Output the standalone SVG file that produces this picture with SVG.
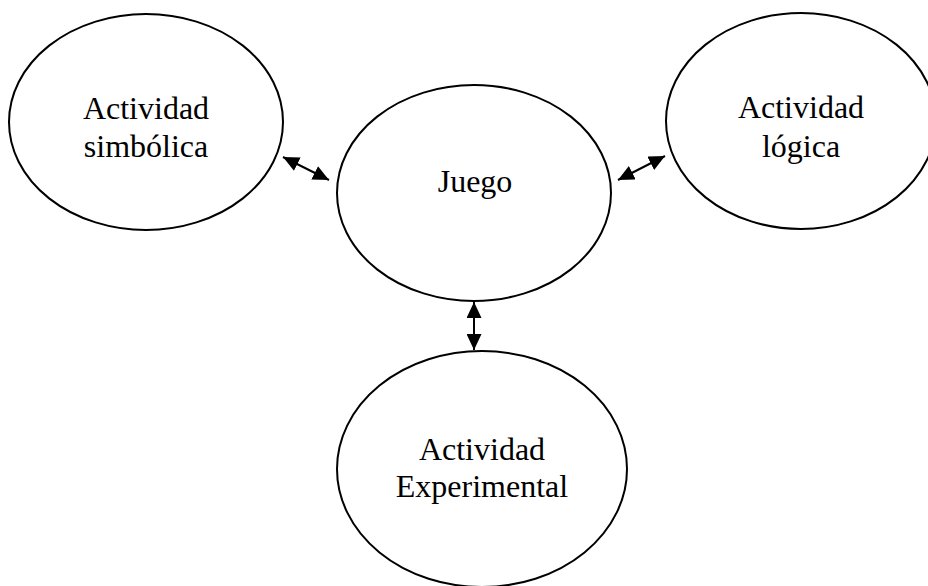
<svg xmlns="http://www.w3.org/2000/svg" width="928" height="586" viewBox="0 0 928 586">
  <style>
    .node ellipse { fill: #ffffff; stroke: #000000; stroke-width: 2; }
    .node text { font-family: "Liberation Serif", "Times New Roman", serif; font-size: 32px; fill: #000000; text-anchor: middle; }
    .link { stroke: #000000; stroke-width: 2; fill: none; marker-start: url(#head); marker-end: url(#head); }
  </style>
  <defs>
    <marker id="head" viewBox="0 0 16 15" refX="16" refY="7.5" markerWidth="16" markerHeight="15" markerUnits="userSpaceOnUse" orient="auto-start-reverse">
      <path d="M0,0 L16,7.5 L0,15 z" fill="#000000"/>
    </marker>
  </defs>
  <rect width="928" height="586" fill="#ffffff"/>

  <g id="simbolica" class="node">
    <ellipse cx="146" cy="122" rx="137" ry="108"/>
    <text x="146" y="119">Actividad</text>
    <text x="146" y="157">simbólica</text>
  </g>

  <g id="juego" class="node">
    <ellipse cx="474" cy="193" rx="137" ry="108"/>
    <text x="475" y="192">Juego</text>
  </g>

  <g id="logica" class="node">
    <ellipse cx="801" cy="121" rx="135" ry="108"/>
    <text x="801" y="118">Actividad</text>
    <text x="801" y="157">lógica</text>
  </g>

  <g id="experimental" class="node">
    <ellipse cx="482" cy="469" rx="145" ry="118"/>
    <text x="482" y="460">Actividad</text>
    <text x="482" y="497">Experimental</text>
  </g>

  <g id="connectors">
    <line class="link" x1="283" y1="157" x2="329" y2="180"/>
    <line class="link" x1="618" y1="180" x2="665" y2="156"/>
    <line class="link" x1="474" y1="302" x2="474" y2="350"/>
  </g>
</svg>
